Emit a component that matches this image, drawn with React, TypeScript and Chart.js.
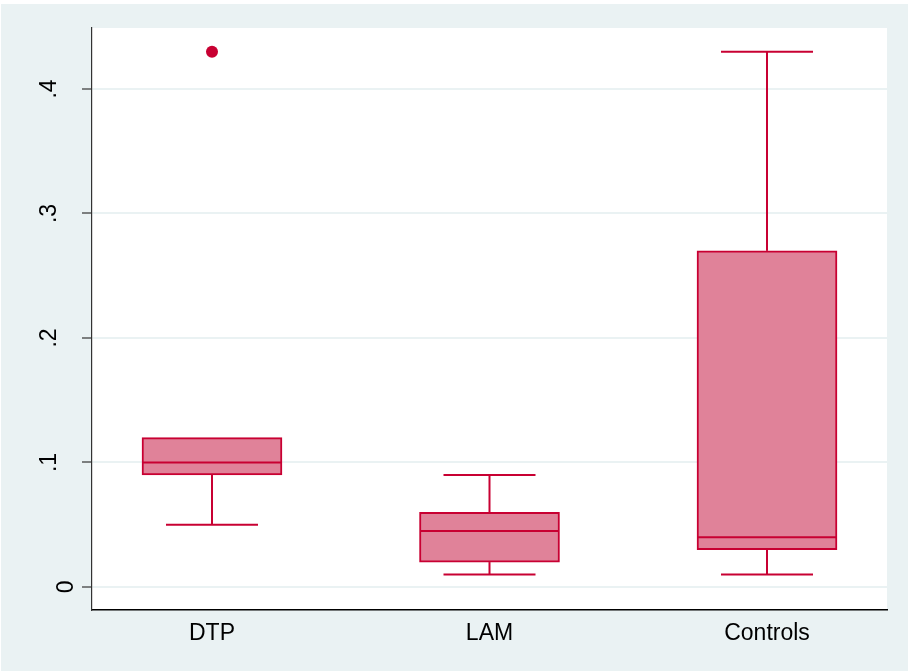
import React, { useEffect, useRef } from "react";
import { Chart, registerables } from "chart.js";

Chart.register(...registerables);

const categories = ["DTP", "LAM", "Controls"];
const lowerWhisker = [0.05, 0.01, 0.01];
const q1 = [0.09, 0.02, 0.03];
const median = [0.1, 0.045, 0.04];
const q3 = [0.12, 0.06, 0.27];
const upperWhisker = [0.12, 0.09, 0.43];
const outliers = [{ group: 0, value: 0.43 }];
const yTickValues = [0, 0.1, 0.2, 0.3, 0.4];
const yTickLabels = ["0", ".1", ".2", ".3", ".4"];

const BG = "rgb(234,242,243)";
const LINE = "rgb(200,0,50)";
const FILL = "rgb(224,130,153)";
const FONT = "'Liberation Sans', Arial, sans-serif";

const bgPlugin = {
  id: "bgPlugin",
  beforeDraw(chart: any) {
    const { ctx, width, height, chartArea } = chart;
    ctx.save();
    ctx.fillStyle = "#ffffff";
    ctx.fillRect(0, 0, width, height);
    ctx.fillStyle = BG;
    ctx.fillRect(1, 4, width - 1, height - 4);
    ctx.fillStyle = "#ffffff";
    ctx.fillRect(chartArea.left, chartArea.top, chartArea.right - chartArea.left, chartArea.bottom - chartArea.top);
    ctx.restore();
  },
};

const whiskerPlugin = {
  id: "whiskerPlugin",
  afterDatasetsDraw(chart: any) {
    const { ctx } = chart;
    const xs = chart.scales.x;
    const ys = chart.scales.y;
    const boxHalf = 70;
    const capHalf = 46;
    ctx.save();
    ctx.strokeStyle = LINE;
    ctx.lineWidth = 2;
    categories.forEach((_, i) => {
      const cx = xs.getPixelForValue(i + 1);
      const seg = (x1: number, y1: number, x2: number, y2: number) => {
        ctx.beginPath();
        ctx.moveTo(x1, y1);
        ctx.lineTo(x2, y2);
        ctx.stroke();
      };
      const yLow = ys.getPixelForValue(lowerWhisker[i]);
      const yQ1 = ys.getPixelForValue(q1[i]);
      const yMed = ys.getPixelForValue(median[i]);
      const yQ3 = ys.getPixelForValue(q3[i]);
      const yUp = ys.getPixelForValue(upperWhisker[i]);
      if (upperWhisker[i] > q3[i]) {
        seg(cx, yQ3, cx, yUp);
        seg(cx - capHalf, yUp, cx + capHalf, yUp);
      }
      if (lowerWhisker[i] < q1[i]) {
        seg(cx, yQ1, cx, yLow);
        seg(cx - capHalf, yLow, cx + capHalf, yLow);
      }
      seg(cx - boxHalf + 1, yMed, cx + boxHalf - 1, yMed);
    });
    ctx.restore();
  },
};

const yLabelPlugin = {
  id: "yLabelPlugin",
  afterDraw(chart: any) {
    const { ctx } = chart;
    const ys = chart.scales.y;
    ctx.save();
    ctx.fillStyle = "#000000";
    ctx.font = `23px ${FONT}`;
    ctx.textAlign = "center";
    ctx.textBaseline = "alphabetic";
    yTickValues.forEach((v, i) => {
      const y = ys.getPixelForValue(v);
      const bx = i === 0 ? 73 : 56;
      ctx.save();
      ctx.translate(bx, y);
      ctx.rotate(-Math.PI / 2);
      ctx.fillText(yTickLabels[i], 0, 0);
      ctx.restore();
    });
    ctx.restore();
  },
};

export default function App() {
  const ref = useRef<HTMLCanvasElement>(null);
  useEffect(() => {
    document.body.style.margin = "0";
    const canvas = ref.current!;
    const chart = new Chart(canvas, {
      type: "bar",
      data: {
        datasets: [
          {
            type: "bar",
            data: categories.map((_, i) => ({ x: i + 1, y: [q1[i], q3[i]] })) as any,
            backgroundColor: FILL,
            borderColor: LINE,
            borderWidth: 2,
            borderSkipped: false,
            barThickness: 140,
          } as any,
          {
            type: "scatter",
            data: outliers.map((o) => ({ x: o.group + 1, y: o.value })),
            backgroundColor: LINE,
            borderColor: LINE,
            pointRadius: 6,
            pointBorderWidth: 0,
          } as any,
        ],
      },
      options: {
        responsive: false,
        animation: false,
        layout: { padding: { left: 0, top: 28, right: 21, bottom: 0 } },
        plugins: { legend: { display: false }, tooltip: { enabled: false } },
        scales: {
          x: {
            type: "linear",
            min: 0.5676,
            max: 3.4324,
            offset: false,
            grid: { display: false, drawTicks: false },
            border: { display: true, color: "#000000", width: 1.5 },
            afterBuildTicks: (scale: any) => {
              scale.ticks = categories.map((_, i) => ({ value: i + 1 }));
            },
            afterFit: (scale: any) => {
              scale.height = 61;
            },
            ticks: {
              autoSkip: false,
              maxRotation: 0,
              minRotation: 0,
              padding: 10,
              color: "#000000",
              font: { family: FONT, size: 23 },
              callback: (v: any) => categories[Math.round(Number(v)) - 1] ?? "",
            },
          },
          y: {
            type: "linear",
            min: -0.0185,
            max: 0.449,
            afterBuildTicks: (scale: any) => {
              scale.ticks = yTickValues.map((v) => ({ value: v }));
            },
            afterFit: (scale: any) => {
              scale.width = 92;
            },
            grid: {
              display: true,
              color: BG,
              lineWidth: 2,
              drawTicks: true,
              tickLength: 10,
              tickColor: "#333333",
              tickWidth: 1.2,
            },
            border: { display: true, color: "#333333", width: 1.2 },
            ticks: { display: false },
          },
        },
      },
      plugins: [bgPlugin, whiskerPlugin, yLabelPlugin],
    });
    return () => chart.destroy();
  }, []);
  return (
    <div style={{ position: "absolute", left: 0, top: 0, width: 908, height: 671 }}>
      <canvas ref={ref} width={908} height={671} style={{ display: "block" }} />
    </div>
  );
}
